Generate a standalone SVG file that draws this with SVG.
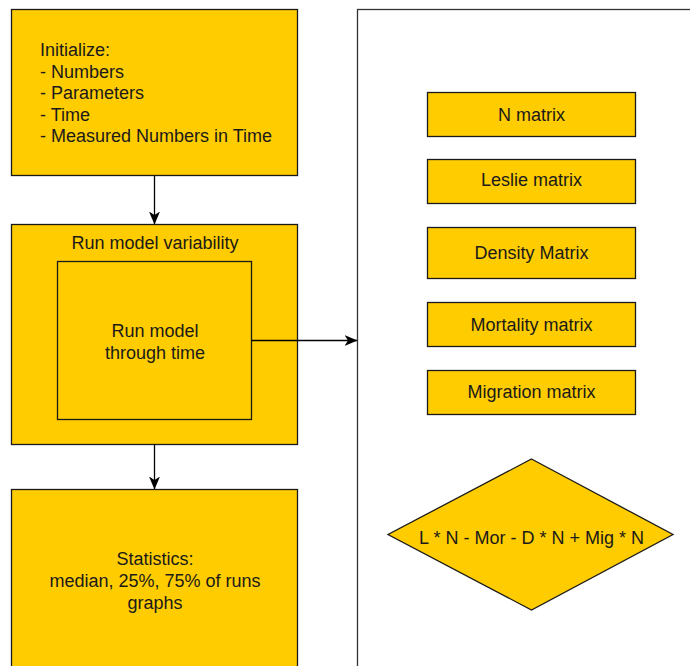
<svg xmlns="http://www.w3.org/2000/svg" width="690" height="666" viewBox="0 0 690 666">
<style>
.box{fill:#FFCC00;stroke:#1a1a1a;stroke-width:1.3}
.t{font-family:"Liberation Sans",Arial,sans-serif;font-size:18px;fill:#1a1a1a}
.c{text-anchor:middle}
.edge{stroke:#000;stroke-width:1.3;fill:none}
</style>
<defs>
<marker id="arr" viewBox="0 0 13 11" refX="12.5" refY="5.5" markerWidth="13" markerHeight="11" markerUnits="userSpaceOnUse" orient="auto">
<path d="M0,0 L13,5.5 L0,11 L3.5,5.5 Z" fill="#000"/>
</marker>
</defs>
<rect width="690" height="666" fill="#fff"/>
<g id="container">
<rect x="357.5" y="9.5" width="340" height="670" fill="#fff" stroke="#333" stroke-width="1.3"/>
</g>
<g id="init">
<rect class="box" x="11.5" y="9.5" width="286" height="166"/>
<text class="t" x="40" y="56">Initialize:</text>
<text class="t" x="40" y="77.6">- Numbers</text>
<text class="t" x="40" y="99.2">- Parameters</text>
<text class="t" x="40" y="120.8">- Time</text>
<text class="t" x="40" y="142.4">- Measured Numbers in Time</text>
</g>
<g id="variability">
<rect class="box" x="11.5" y="224.5" width="286" height="220"/>
<text class="t c" x="155" y="249">Run model variability</text>
</g>
<g id="runmodel">
<rect class="box" x="57.5" y="261.5" width="194" height="158"/>
<text class="t c" x="155" y="337">Run model</text>
<text class="t c" x="155" y="359">through time</text>
</g>
<g id="statistics">
<rect class="box" x="11.5" y="489.5" width="286" height="200"/>
<text class="t c" x="155" y="565">Statistics:</text>
<text class="t c" x="155" y="587">median, 25%, 75% of runs</text>
<text class="t c" x="155" y="609">graphs</text>
</g>
<g id="nmatrix">
<rect class="box" x="427.5" y="92.5" width="208" height="44"/>
<text class="t c" x="531.5" y="121">N matrix</text>
</g>
<g id="leslie">
<rect class="box" x="427.5" y="159.5" width="208" height="44"/>
<text class="t c" x="531.5" y="186">Leslie matrix</text>
</g>
<g id="density">
<rect class="box" x="427.5" y="227.5" width="208" height="51"/>
<text class="t c" x="531.5" y="259">Density Matrix</text>
</g>
<g id="mortality">
<rect class="box" x="427.5" y="302.5" width="208" height="44"/>
<text class="t c" x="531.5" y="331">Mortality matrix</text>
</g>
<g id="migration">
<rect class="box" x="427.5" y="370.5" width="208" height="44"/>
<text class="t c" x="531.5" y="398">Migration matrix</text>
</g>
<g id="formula">
<polygon class="box" points="531.5,459 673,534.5 531.5,610 388,534.5"/>
<text class="t c" x="531.5" y="544">L * N - Mor - D * N + Mig * N</text>
</g>
<g id="connectors">
<line class="edge" x1="154.5" y1="175.5" x2="154.5" y2="224" marker-end="url(#arr)"/>
<line class="edge" x1="154.5" y1="444.5" x2="154.5" y2="489" marker-end="url(#arr)"/>
<line class="edge" x1="251.5" y1="340.5" x2="357" y2="340.5" marker-end="url(#arr)"/>
</g>
</svg>
